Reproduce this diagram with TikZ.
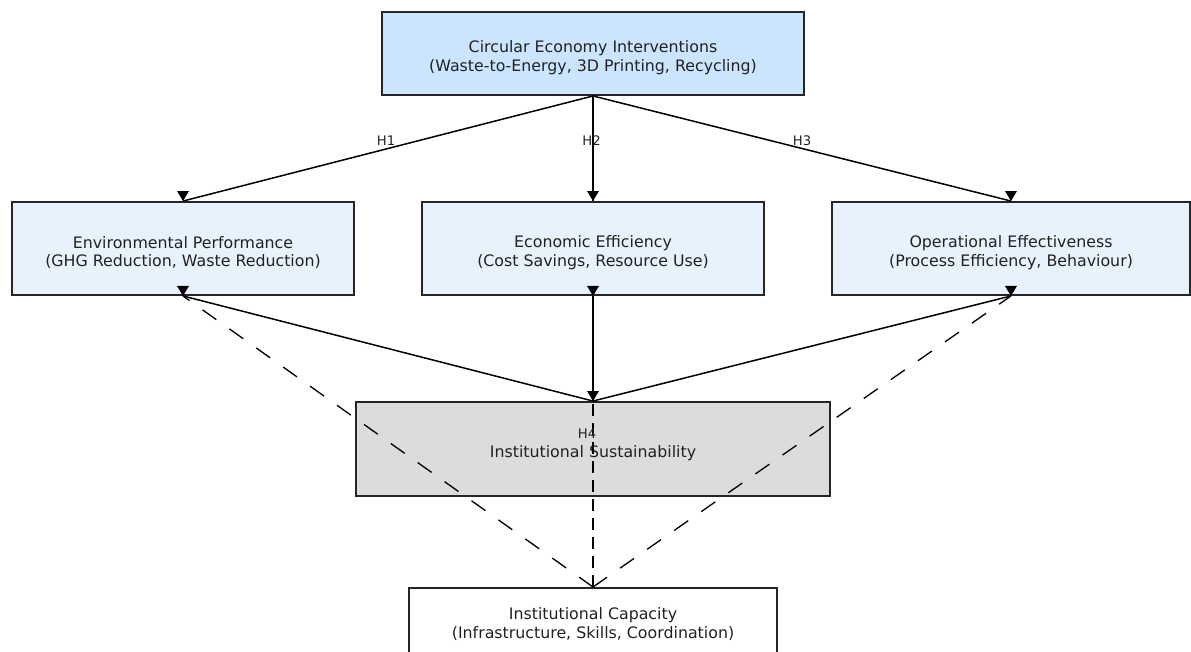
\documentclass[tikz,border=0pt]{standalone}
\usepackage{fontspec}
\setmainfont{DejaVu Sans}
\usepackage{tikz}
\usetikzlibrary{positioning}
\definecolor{ceblue}{HTML}{CCE5FF}
\definecolor{outblue}{HTML}{E8F2FD}
\definecolor{susgrey}{HTML}{DCDCDC}
\definecolor{txt}{HTML}{222222}
\newcommand\vtip[1]{\fill (#1) -- ++(-6,-10) -- ++(12,0) -- cycle;}
\newcommand\up{\rule{0pt}{11.5pt}}
\tikzset{
  box/.style={
    shape = rectangle,
    draw = black!85,
    line width = 1.1pt,
    inner sep = 0pt,
    align = center,
    text = txt,
    font = \fontsize{9}{10.4}\selectfont
  },
  outcome/.style={
    box,
    fill = outblue,
    minimum width = 6.84cm,
    minimum height = 1.86cm
  },
  hlab/.style={
    font = \fontsize{7.5}{9}\selectfont,
    text = txt,
    inner sep = 0pt
  },
  link/.style={
    line width = 0.85pt
  },
  modlink/.style={
    line width = 0.75pt,
    dash pattern = on 0.34cm off 0.32cm
  }
}

\begin{document}
\begin{tikzpicture}[x=0.02cm, y=-0.02cm]
        \useasboundingbox (0,0) rectangle (1191,652);
        \clip (0,0) rectangle (1191,652);

        \node[box, fill=ceblue, minimum width=8.44cm, minimum height=1.66cm] (ce) at (593,53.5) {\up Circular Economy Interventions\\(Waste-to-Energy, 3D Printing, Recycling)};

        \node[outcome] (env) at (183,248.5) {\up Environmental Performance\\(GHG Reduction, Waste Reduction)};
        \node[outcome] (eco) at (593,248.5) {\up Economic Efficiency\\(Cost Savings, Resource Use)};
        \node[outcome, minimum width=7.16cm] (ope) at (1011,248.5) {\up Operational Effectiveness\\(Process Efficiency, Behaviour)};

        \node[box, fill=susgrey, minimum width=9.48cm, minimum height=1.88cm] (sus) at (593,449) {\up Institutional Sustainability};
        \node[box, fill=white, minimum width=7.36cm, minimum height=1.44cm, anchor=north] (cap) at (593,587) {Institutional Capacity\\(Infrastructure, Skills, Coordination)};

        \draw[link] (ce.south) -- node[hlab, xshift=-0.04cm, yshift=0.15cm] {H1} (env.north);
        \draw[link] (ce.south) -- node[hlab, xshift=-0.03cm, yshift=0.15cm] {H2} (eco.north);
        \draw[link] (ce.south) -- node[hlab, yshift=0.15cm] {H3} (ope.north);
        \vtip{env.north} \vtip{eco.north} \vtip{ope.north}

        \draw[link] (env.south) -- (sus.north);
        \draw[link] (eco.south) -- (sus.north);
        \draw[link] (ope.south) -- (sus.north);
        \vtip{env.south} \vtip{eco.south} \vtip{ope.south} \vtip{sus.north}

        % moderation by capacity
        \draw[modlink] (cap.north) -- (env.south);
        \draw[modlink] (cap.north) -- (ope.south);
        \draw[modlink, dash pattern=on 0.24cm off 0.14cm] (cap.north) -- node[hlab, xshift=-0.12cm, yshift=0.16cm] {H4} (eco.south);
\end{tikzpicture}
\end{document}
